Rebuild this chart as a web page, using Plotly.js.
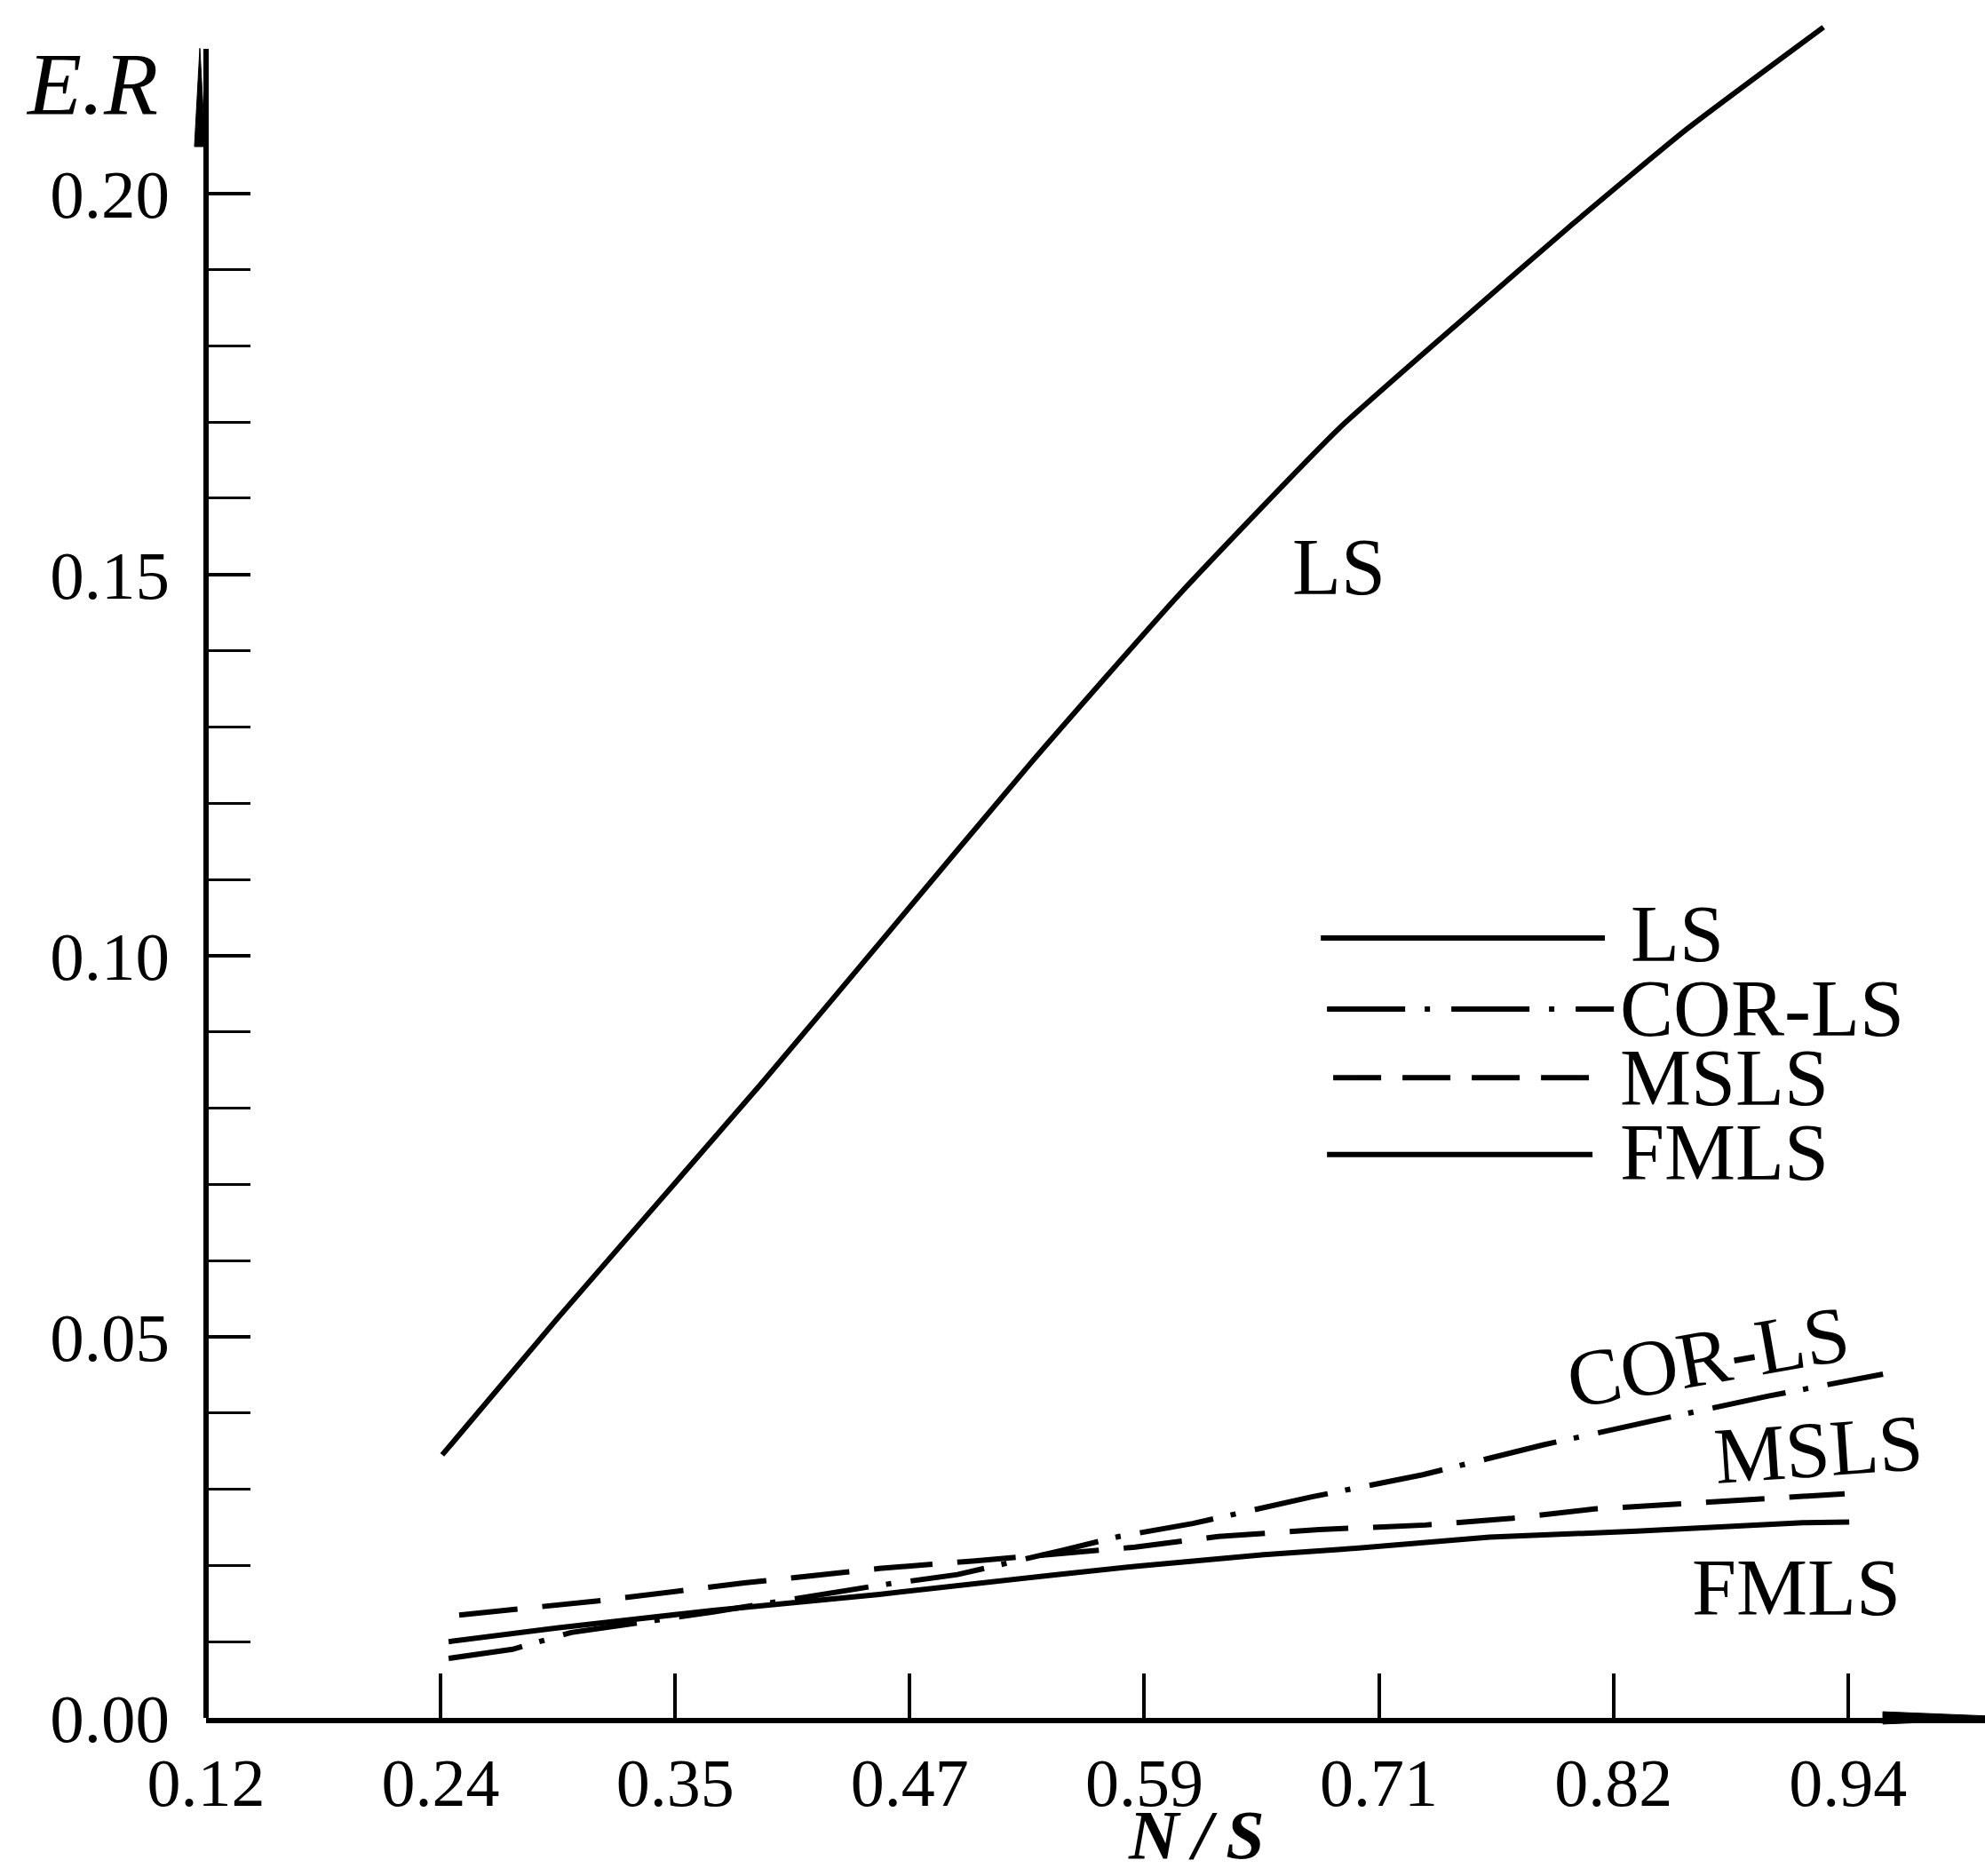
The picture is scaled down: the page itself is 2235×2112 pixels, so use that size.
<!DOCTYPE html>
<html>
<head>
<meta charset="utf-8">
<script src="https://cdn.plot.ly/plotly-3.0.1.min.js"></script>
<style>html,body{margin:0;padding:0;background:#fff;}#chart{width:2235px;height:2112px;}</style>
</head>
<body>
<div id="chart"></div>
<script>
// ---- data ----
const xTickVals = [0.1175, 0.235, 0.3525, 0.47, 0.5875, 0.705, 0.8225, 0.94];
const xTickText = ['0.12', '0.24', '0.35', '0.47', '0.59', '0.71', '0.82', '0.94'];
const yTickVals = [0.00, 0.05, 0.10, 0.15, 0.20];
const yTickText = ['0.00', '0.05', '0.10', '0.15', '0.20'];
const yMinorVals = [0.01,0.02,0.03,0.04,0.06,0.07,0.08,0.09,0.11,0.12,0.13,0.14,0.16,0.17,0.18,0.19];

const lsX = [0.2358, 0.2932, 0.3956, 0.4592, 0.5304, 0.6047, 0.6848, 0.7484, 0.8017, 0.8596, 0.9277];
const lsY = [0.0345, 0.0523, 0.0832, 0.1030, 0.1252, 0.1473, 0.1691, 0.1838, 0.1959, 0.2085, 0.2218];

const corX = [0.2390, 0.2710, 0.3004, 0.3715, 0.4547, 0.4939, 0.5468, 0.5749, 0.6118, 0.6714, 0.7270, 0.7871, 0.8409, 0.8996, 0.9575];
const corY = [0.0078, 0.0090, 0.0112, 0.0139, 0.0174, 0.0188, 0.0220, 0.0238, 0.0255, 0.0290, 0.0319, 0.0358, 0.0389, 0.0422, 0.0451];

const mslsX = [0.2443, 0.3155, 0.3871, 0.4547, 0.5028, 0.5829, 0.6247, 0.6750, 0.7284, 0.7719, 0.8129, 0.8587, 0.8983, 0.9383];
const mslsY = [0.0135, 0.0154, 0.0177, 0.0196, 0.0206, 0.0224, 0.0238, 0.0247, 0.0253, 0.0262, 0.0274, 0.0281, 0.0288, 0.0294];

const fmlsX = [0.2390, 0.2932, 0.3715, 0.4547, 0.5437, 0.5838, 0.6474, 0.6861, 0.7604, 0.8342, 0.9174, 0.9406];
const fmlsY = [0.0100, 0.0118, 0.0141, 0.0162, 0.0188, 0.0199, 0.0214, 0.0221, 0.0237, 0.0245, 0.0256, 0.0257];

const seriesNames = ['LS', 'COR-LS', 'MSLS', 'FMLS'];

// ---- styles ----
const FONT = 'Liberation Serif, Times New Roman, serif';
const INK = '#000000';
const dashCor = '84px,20px,6px,22px';
const dashMs = '66px,28px';
const dashCorLegend = '88px,22px,6px,24px';
const dashMsLegend = '54px,24px';

const traces = [
  {x: lsX, y: lsY, name: seriesNames[0], mode: 'lines', line: {color: INK, width: 6, shape: 'spline', smoothing: 0.5}},
  {x: corX, y: corY, name: seriesNames[1], mode: 'lines', line: {color: INK, width: 6, dash: dashCor}},
  {x: mslsX, y: mslsY, name: seriesNames[2], mode: 'lines', line: {color: INK, width: 6, dash: dashMs}},
  {x: fmlsX, y: fmlsY, name: seriesNames[3], mode: 'lines', line: {color: INK, width: 6}}
];

function legendLine(x0, x1, y, dash) {
  return {type: 'line', xref: 'x', yref: 'y', x0: x0, x1: x1, y0: y, y1: y,
          line: {color: INK, width: 6, dash: dash || 'solid'}};
}
function label(text, x, y, size, opts) {
  return Object.assign({text: text, x: x, y: y, xref: 'x', yref: 'y', showarrow: false,
    font: {family: FONT, size: size, color: INK}, xanchor: 'center', yanchor: 'middle'}, opts || {});
}

const layout = {
  width: 2235, height: 2112,
  margin: {l: 232, r: 0, t: 16, b: 178, pad: 0},
  paper_bgcolor: '#ffffff', plot_bgcolor: '#ffffff',
  showlegend: false,
  xaxis: {
    range: [0.1175, 1.0086], tickmode: 'array', tickvals: xTickVals, ticktext: xTickText,
    ticks: 'inside', ticklen: 50, tickwidth: 4, tickcolor: INK,
    showline: true, linewidth: 6, linecolor: INK, showgrid: false, zeroline: false,
    tickfont: {family: FONT, size: 76, color: INK}, ticklabelstandoff: 2
  },
  yaxis: {
    range: [0, 0.2235], tickmode: 'array', tickvals: yTickVals, ticktext: yTickText,
    ticks: 'inside', ticklen: 50, tickwidth: 4, tickcolor: INK,
    minor: {tickmode: 'array', tickvals: yMinorVals, ticks: 'inside', ticklen: 50, tickwidth: 3, tickcolor: INK, showgrid: false},
    showline: false, showgrid: false, zeroline: false,
    tickfont: {family: FONT, size: 77, color: INK}, ticklabelstandoff: 40
  },
  shapes: [
    // y axis line and arrow tip
    {type: 'line', xref: 'paper', yref: 'paper', x0: 0, x1: 0, y0: 0, y1: 0.9797, line: {color: INK, width: 6}},
    {type: 'path', xref: 'paper', yref: 'paper', path: 'M -0.0035,0.9800 L -0.0005,0.9223 L -0.0065,0.9223 Z', fillcolor: INK, line: {color: INK, width: 1}},
    // x axis arrow end
    {type: 'path', xref: 'paper', yref: 'paper', path: 'M 0.9426,0.0036 L 1,0.0012 L 1,-0.0012 L 0.9426,-0.0036 Z', fillcolor: INK, line: {color: INK, width: 1}},
    // hand-drawn style legend samples
    legendLine(0.6759, 0.8182, 0.1023),
    legendLine(0.6790, 0.8227, 0.0930, dashCorLegend),
    legendLine(0.6821, 0.8102, 0.0840, dashMsLegend),
    legendLine(0.6790, 0.8120, 0.0739)
  ],
  annotations: [
    {text: '<i>E.R</i>', xref: 'paper', yref: 'paper', x: -0.0644, y: 0.9593, showarrow: false,
     font: {family: FONT, size: 100, color: INK}, xanchor: 'center', yanchor: 'middle'},
    {text: 'N\u2009/\u2009S', xref: 'paper', yref: 'paper', x: 0.5566, y: -0.0925, showarrow: false,
     font: {family: FONT, size: 78, color: INK, weight: 'bold', style: 'italic'}, xanchor: 'center', yanchor: 'bottom'},
    // curve labels
    label(seriesNames[0], 0.6848, 0.1510, 90),
    label(seriesNames[1], 0.8698, 0.0474, 90, {textangle: -10}),
    label(seriesNames[2], 0.9250, 0.0352, 90, {textangle: -4}),
    label(seriesNames[3], 0.9139, 0.0171, 90),
    // legend labels
    label(seriesNames[0], 0.8302, 0.1028, 90, {xanchor: 'left'}),
    label(seriesNames[1], 0.8249, 0.0930, 90, {xanchor: 'left'}),
    label(seriesNames[2], 0.8249, 0.0840, 90, {xanchor: 'left'}),
    label(seriesNames[3], 0.8249, 0.0742, 90, {xanchor: 'left'})
  ]
};

Plotly.newPlot('chart', traces, layout, {displayModeBar: false, staticPlot: true});
</script>
</body>
</html>
